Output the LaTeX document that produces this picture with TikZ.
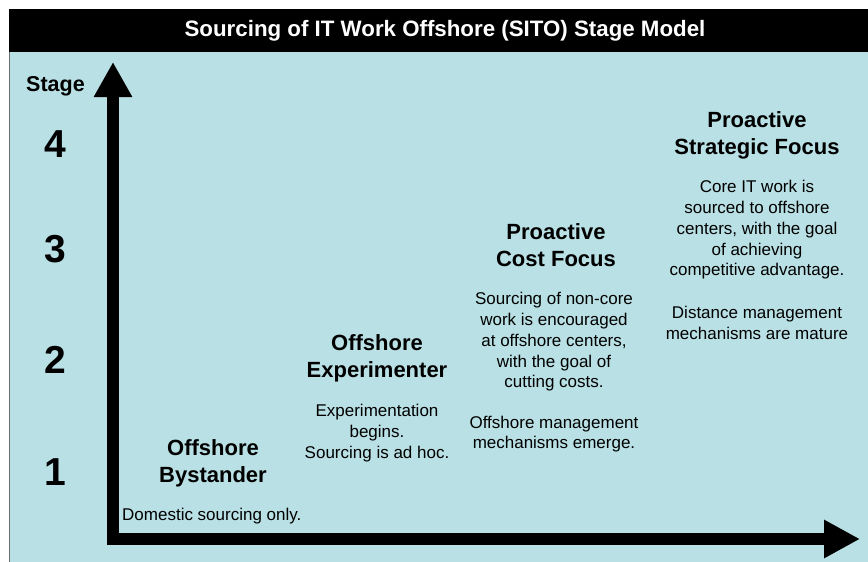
\documentclass[tikz,border=0pt]{standalone}
\usepackage{fontspec}
\setmainfont{Liberation Sans}
\usetikzlibrary{arrows.meta}
\definecolor{bgblue}{RGB}{185,224,228}
\definecolor{edgegray}{RGB}{110,110,110}
\begin{document}
\begin{tikzpicture}[x=1pt,y=-1pt,
  heading/.style={font=\bfseries\fontsize{22}{27}\selectfont, align=center, inner sep=0pt, text=black},
  body/.style={font=\fontsize{17}{20.7}\selectfont, align=center, inner sep=0pt, text=black},
  digit/.style={font=\bfseries\fontsize{39}{40}\selectfont, inner sep=0pt, anchor=base},
  axis/.style={line width=12pt, line join=miter, {Triangle[length=35pt,width=36pt]}-{Triangle[length=36pt,width=36pt]}}
]
\useasboundingbox (0,0) rectangle (868,562);
\fill[white] (0,0) rectangle (868,562);
\fill[bgblue] (9,52) rectangle (868,562);
\draw[edgegray, line width=1pt] (9.5,52) -- (9.5,562);
\fill[black] (9,9) rectangle (868,52);
\node[font=\bfseries\fontsize{22.3}{25}\selectfont, text=white, inner sep=0pt] (title) at (445,31) {Sourcing of IT Work Offshore (SITO) Stage Model};

% axes
\coordinate (ytip) at (113,62);
\coordinate (origin) at (113,539);
\coordinate (xtip) at (860,539);
\draw[axis] (ytip) -- (origin) -- (xtip);

% stage labels
\node[font=\bfseries\fontsize{21.5}{24}\selectfont, inner sep=0pt, anchor=base] (stage) at (55.5,91) {Stage};
\node[digit] (s4) at (55,157) {4};
\node[digit] (s3) at (55,262) {3};
\node[digit] (s2) at (55,373) {2};
\node[digit] (s1) at (55,485) {1};

% stage 1
\node[heading] (bystander) at (213,463) {Offshore\\Bystander};
\node[body, anchor=west] (domestic) at (122,516) {Domestic sourcing only.};

% stage 2
\node[heading] (experimenter) at (377,358) {Offshore\\Experimenter};
\node[body] (exptext) at (377,433) {Experimentation\\begins.\\Sourcing is ad hoc.};

% stage 3
\node[heading] (cost) at (556,245) {Proactive\\Cost Focus};
\node[body] (costtext) at (554,342) {Sourcing of non-core\\work is encouraged\\at offshore centers,\\with the goal of\\cutting costs.};
\node[body] (costmgmt) at (554,434) {Offshore management\\mechanisms emerge.};

% stage 4
\node[heading] (strategic) at (757,135) {Proactive\\Strategic Focus};
\node[body] (strattext) at (757,230) {Core IT work is\\sourced to offshore\\centers, with the goal\\of achieving\\competitive advantage.};
\node[body] (stratmgmt) at (757,323) {Distance management\\mechanisms are mature};
\end{tikzpicture}
\end{document}
